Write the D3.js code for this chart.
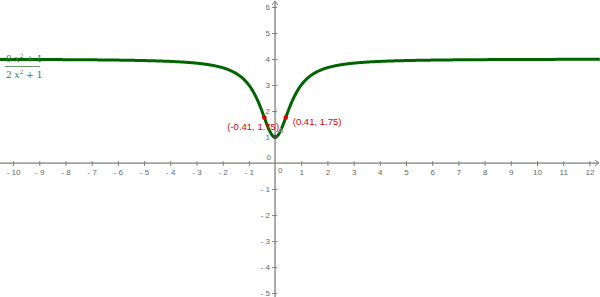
<!DOCTYPE html>
<html>
<head>
<meta charset="utf-8">
<script src="https://cdn.jsdelivr.net/npm/d3@7"></script>
<style>
  body { margin: 0; background: #fff; }
  svg { display: block; font-family: "Liberation Sans", Arial, sans-serif; }
</style>
</head>
<body>
<div id="chart"></div>
<script>
// plotted function f(x) = (8x^2 + 1) / (2x^2 + 1), shown by the label on the left
const numCoef = [8, 1];
const denCoef = [2, 1];
const xTicks = [-10, -9, -8, -7, -6, -5, -4, -3, -2, -1, 1, 2, 3, 4, 5, 6, 7, 8, 9, 10, 11, 12];
const yTicks = [-5, -4, -3, -2, -1, 1, 2, 3, 4, 5, 6];
const markedX = [-0.41, 0.41];
const markedY = [1.75, 1.75];
const markedLabels = ["(-0.41, 1.75)", "(0.41, 1.75)"];

const width = 600;
const height = 297;

const f = (x) => (numCoef[0] * x * x + numCoef[1]) / (denCoef[0] * x * x + denCoef[1]);

const x = d3.scaleLinear().domain([-10.5, 12.405]).range([0, width]);
const y = d3.scaleLinear().domain([-5.15, 6.27]).range([height, 0]);

const svg = d3.select("#chart")
  .append("svg")
  .attr("width", width)
  .attr("height", height);

const axisColor = "#7f7f7f";

// x axis
const xAxis = svg.append("g")
  .attr("transform", `translate(0,${y(0)})`)
  .call(d3.axisBottom(x).tickValues(xTicks).tickSize(3).tickSizeOuter(0).tickFormat(d3.format("d")));
xAxis.select(".domain").remove();
xAxis.selectAll(".tick line").attr("stroke", axisColor).attr("y1", -2);
xAxis.selectAll(".tick text")
  .attr("fill", "#666")
  .style("font-size", "8px")
  .attr("y", 6)
  .text((d) => d < 0 ? "- " + Math.abs(d) : d);

svg.append("line")
  .attr("x1", 0).attr("x2", width - 1)
  .attr("y1", y(0)).attr("y2", y(0))
  .attr("stroke", axisColor).attr("stroke-width", 1.3);
svg.append("path")
  .attr("d", `M${width - 5},${y(0) - 3}L${width - 1},${y(0)}L${width - 5},${y(0) + 3}`)
  .attr("fill", "none").attr("stroke", axisColor);

// y axis
const yAxis = svg.append("g")
  .attr("transform", `translate(${x(0)},0)`)
  .call(d3.axisLeft(y).tickValues(yTicks).tickSize(3).tickSizeOuter(0).tickFormat(d3.format("d")));
yAxis.select(".domain").remove();
yAxis.selectAll(".tick line").attr("stroke", axisColor).attr("x1", 2);
yAxis.selectAll(".tick text")
  .attr("fill", "#666")
  .style("font-size", "8px")
  .attr("x", -5)
  .text((d) => d < 0 ? "- " + Math.abs(d) : d);

svg.append("line")
  .attr("x1", x(0)).attr("x2", x(0))
  .attr("y1", 1).attr("y2", height)
  .attr("stroke", axisColor).attr("stroke-width", 1.3);
svg.append("path")
  .attr("d", `M${x(0) - 3},${5}L${x(0)},${1}L${x(0) + 3},${5}`)
  .attr("fill", "none").attr("stroke", axisColor);

// origin labels
svg.append("text")
  .attr("x", x(0) - 4).attr("y", y(0) - 3)
  .attr("text-anchor", "end")
  .attr("fill", "#666").style("font-size", "8px")
  .text("0");
svg.append("text")
  .attr("x", x(0) + 3).attr("y", y(0) + 10)
  .attr("fill", "#666").style("font-size", "8px")
  .text("0");

// curve
const xs = d3.range(-10.5, 12.41, 0.02);
const line = d3.line()
  .x((d) => x(d))
  .y((d) => y(f(d)))
  .curve(d3.curveLinear);

svg.append("path")
  .datum(xs)
  .attr("d", line)
  .attr("fill", "none")
  .attr("stroke", "#006400")
  .attr("stroke-width", 3);

// minimum point A
svg.append("circle")
  .attr("cx", x(0)).attr("cy", y(f(0)))
  .attr("r", 2.2)
  .attr("fill", "#444");
svg.append("text")
  .attr("x", x(0) + 3).attr("y", y(f(0)) - 4)
  .attr("fill", "#999").style("font-size", "8px")
  .text("A");

// marked points
const pts = markedX.map((v, i) => ({ x: v, y: markedY[i], label: markedLabels[i] }));

svg.selectAll("circle.mark")
  .data(pts)
  .enter()
  .append("circle")
  .attr("class", "mark")
  .attr("cx", (d) => x(d.x))
  .attr("cy", (d) => y(d.y))
  .attr("r", 2.3)
  .attr("fill", "#e00000");

svg.selectAll("text.mark")
  .data(pts)
  .enter()
  .append("text")
  .attr("class", "mark")
  .attr("x", (d) => d.x < 0 ? x(d.x) - 37 : x(d.x) + 7)
  .attr("y", (d) => d.x < 0 ? y(d.y) + 12 : y(d.y) + 7)
  .attr("fill", "#e00000")
  .style("font-size", "9.5px")
  .text((d) => d.label);

// formula label
const formula = svg.append("g")
  .attr("fill", "#3a7d3a")
  .style("font-family", "'DejaVu Serif', 'Liberation Serif', serif")
  .style("font-size", "9px");

const numText = formula.append("text").attr("x", 6).attr("y", 62);
numText.append("tspan").text("8 ");
numText.append("tspan").style("font-style", "italic").text("x");
numText.append("tspan").attr("dy", -4).style("font-size", "6px").text("2");
numText.append("tspan").attr("dy", 4).text(" + 1");

formula.append("line")
  .attr("x1", 5).attr("x2", 40)
  .attr("y1", 66.5).attr("y2", 66.5)
  .attr("stroke", "#3a7d3a").attr("stroke-width", 0.8);

const denText = formula.append("text").attr("x", 6).attr("y", 77.5);
denText.append("tspan").text("2 ");
denText.append("tspan").style("font-style", "italic").text("x");
denText.append("tspan").attr("dy", -4).style("font-size", "6px").text("2");
denText.append("tspan").attr("dy", 4).text(" + 1");
</script>
</body>
</html>
